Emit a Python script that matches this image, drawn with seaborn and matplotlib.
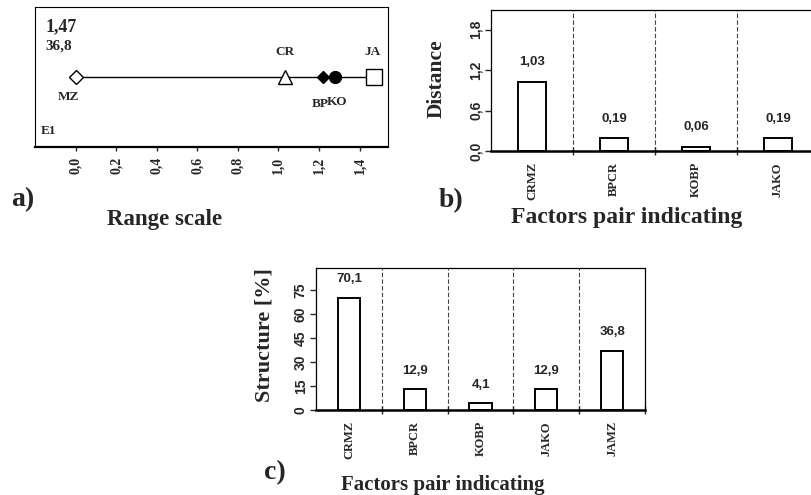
import matplotlib
matplotlib.use("Agg")
import matplotlib.pyplot as plt
import seaborn as sns
import pandas as pd

# ---- data ----
range_factors = ["MZ", "CR", "BP", "KO", "JA"]
range_pos = [0.0, 1.03, 1.22, 1.28, 1.47]
range_ticks = [0.0, 0.2, 0.4, 0.6, 0.8, 1.0, 1.2, 1.4]

dist_pairs = ["CRMZ", "BPCR", "KOBP", "JAKO"]
dist_values = [1.03, 0.19, 0.06, 0.19]
dist_ticks = [0.0, 0.6, 1.2, 1.8]

struct_pairs = ["CRMZ", "BPCR", "KOBP", "JAKO", "JAMZ"]
struct_values = [70.1, 12.9, 4.1, 12.9, 36.8]
struct_ticks = [0, 15, 30, 45, 60, 75]

sns.set_style("white")
SERIF = ["Liberation Serif", "DejaVu Serif"]
SANS = ["Liberation Sans", "DejaVu Sans"]
plt.rcParams['font.family'] = SERIF


def comma(v, fmt):
    return (fmt % v).replace(".", ",")


W, H = 812, 495
fig = plt.figure(figsize=(W / 100, H / 100), dpi=100)


def px_axes(l, t, r, b):
    return fig.add_axes([l / W, 1 - b / H, (r - l) / W, (b - t) / H])


def ftext(x, y, s, size, family=SERIF, ha="center"):
    fig.text(x / W, 1 - y / H, s, fontsize=size, fontweight="bold", family=family,
             ha=ha, va="center")


# ---------------- panel a ----------------
axa = px_axes(35, 7, 388, 147)
dfa = pd.DataFrame({"x": range_pos, "y": [0.5] * len(range_pos), "f": range_factors})
sns.lineplot(data=dfa, x="x", y="y", ax=axa, color="black", lw=1.0)
mk = {"MZ": ("D", "white", 7), "CR": ("^", "white", 10), "BP": ("D", "black", 6),
      "KO": ("o", "black", 8.5), "JA": ("s", "white", 11)}
for f, x in zip(range_factors, range_pos):
    m, fc, s = mk[f]
    axa.plot([x], [0.5], marker=m, ms=s, mfc=fc, mec="black", mew=1.0, ls="none", zorder=3)
axa.set_xlim(-0.2, 1.54)
axa.set_ylim(0, 1)
axa.set_xticks(range_ticks)
axa.set_xticklabels([comma(t, "%.1f") for t in range_ticks], rotation=90,
                    fontsize=10, fontweight="bold", family=SERIF)
axa.set_yticks([])
axa.set_xlabel("")
axa.set_ylabel("")
axa.tick_params(axis="x", direction="out", length=3, width=1, pad=4, bottom=True)
for s in ["top", "left", "right"]:
    axa.spines[s].set_linewidth(0.8)
axa.spines["bottom"].set_linewidth(1.6)
for sp in axa.spines.values():
    sp.set_color("black")
tk = dict(fontweight="bold", family=SERIF, ha="center", va="center", fontsize=9.5)
axa.text(-0.15, 0.857, comma(range_pos[-1], "%.2f"), fontsize=13, fontweight="bold",
         family=SERIF, ha="left", va="center")
axa.text(-0.15, 0.72, comma(struct_values[-1], "%.1f"), fontsize=11, fontweight="bold",
         family=SERIF, ha="left", va="center")
axa.text(-0.037, 0.36, "MZ", **tk)
axa.text(1.03, 0.68, "CR", **tk)
axa.text(1.465, 0.68, "JA", **tk)
axa.text(1.205, 0.31, "BP", **tk)
axa.text(1.29, 0.32, "KO", **tk)
axa.text(-0.173, 0.114, "E1", fontsize=9.5, fontweight="bold", family=SERIF, ha="left", va="center")
ftext(23, 200, "a)", 20)
ftext(165, 219, "Range scale", 16.5)


# ---------------- bar panels ----------------
def bar_panel(ax, cats, vals, ticks, ylim, tickfmt, valfmt, off):
    df = pd.DataFrame({"pair": cats, "val": vals})
    sns.barplot(data=df, x="pair", y="val", ax=ax, width=0.34, fill=False,
                edgecolor="black", linewidth=1.4)
    n = len(cats)
    ax.set_xlim(-0.5, n - 0.5)
    ax.set_ylim(*ylim)
    ax.set_yticks(ticks)
    ax.set_yticklabels([tickfmt(t) for t in ticks], rotation=90, va="center",
                       fontsize=10, fontweight="bold", family=SANS)
    ax.set_xticks(range(n))
    ax.set_xticklabels(cats, rotation=90, fontsize=9, fontweight="bold", family=SERIF)
    ax.set_xticks([i + 0.5 for i in range(n)], minor=True)
    ax.tick_params(axis="x", which="major", length=0, pad=8)
    ax.tick_params(axis="x", which="minor", direction="inout", length=6, width=1, bottom=True)
    ax.tick_params(axis="y", direction="out", length=4, width=1, left=True, pad=2)
    for i in range(n - 1):
        ax.axvline(i + 0.5, color="#444444", ls=(0, (4, 2)), lw=0.8, zorder=0)
    for i, v in enumerate(vals):
        ax.text(i, v + off, valfmt(v), ha="center", va="bottom", fontsize=9.5,
                fontweight="bold", family=SANS)
    for s in ["top", "left", "right"]:
        ax.spines[s].set_linewidth(0.9)
        ax.spines[s].set_color("black")
    ax.spines["bottom"].set_linewidth(1.8)
    ax.spines["bottom"].set_color("black")
    ax.set_xlabel("")
    ax.set_ylabel("")


# panel b
axb = px_axes(491, 10, 819, 151)
bar_panel(axb, dist_pairs, dist_values, dist_ticks, (0, 2.09),
          lambda t: comma(t, "%.1f"), lambda v: comma(v, "%.2f"), 0.2)
axb.set_ylabel("Distance", fontsize=15.5, fontweight="bold", family=SERIF)
axb.yaxis.set_label_coords(-0.135, 0.51)
ftext(451, 201, "b)", 20)
ftext(627, 218, "Factors pair indicating", 17)

# panel c
axc = px_axes(316, 268, 645, 410)
bar_panel(axc, struct_pairs, struct_values, struct_ticks, (0, 88.8),
          lambda t: str(t), lambda v: comma(v, "%.1f"), 8)
axc.set_ylabel("Structure [%]", fontsize=16, fontweight="bold", family=SERIF)
axc.yaxis.set_label_coords(-0.125, 0.53)
ftext(275, 473, "c)", 20)
ftext(443, 485, "Factors pair indicating", 15)

fig.savefig("out.png", dpi=100)
